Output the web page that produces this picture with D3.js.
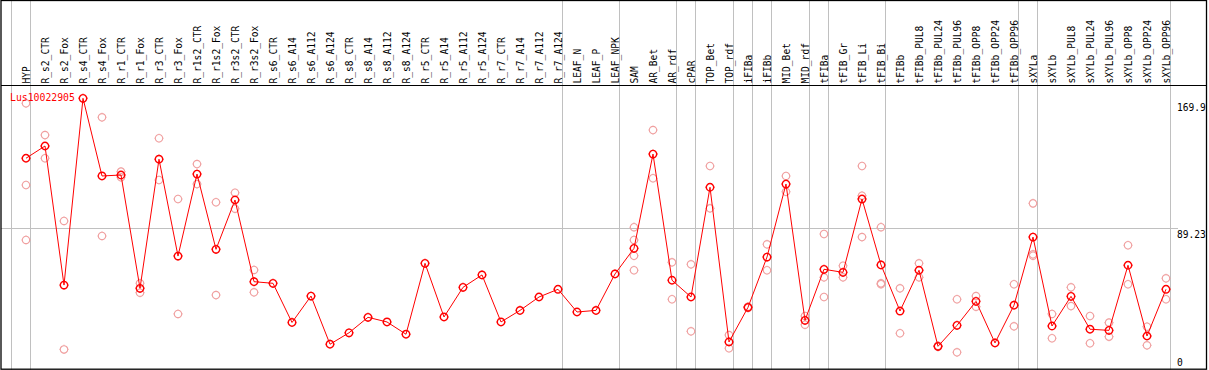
<!DOCTYPE html>
<html>
<head>
<meta charset="utf-8">
<script src="https://cdn.jsdelivr.net/npm/d3@7"></script>
<style>
body { margin: 0; background: #fff; }
svg { display: block; }
</style>
</head>
<body>
<svg id="chart" width="1209" height="370"></svg>
<script>
// sample names, in column order
var samples = ["HYP", "R_s2_CTR", "R_s2_Fox", "R_s4_CTR", "R_s4_Fox", "R_r1_CTR", "R_r1_Fox",
  "R_r3_CTR", "R_r3_Fox", "R_r1s2_CTR", "R_r1s2_Fox", "R_r3s2_CTR", "R_r3s2_Fox", "R_s6_CTR",
  "R_s6_A14", "R_s6_A112", "R_s6_A124", "R_s8_CTR", "R_s8_A14", "R_s8_A112", "R_s8_A124",
  "R_r5_CTR", "R_r5_A14", "R_r5_A112", "R_r5_A124", "R_r7_CTR", "R_r7_A14", "R_r7_A112",
  "R_r7_A124", "LEAF_N", "LEAF_P", "LEAF_NPK", "SAM", "AR_Bet", "AR_rdf", "cPAR", "TOP_Bet",
  "TOP_rdf", "iFIBa", "iFIBb", "MID_Bet", "MID_rdf", "tFIBa", "tFIB_Gr", "tFIB_Li", "tFIB_Bi",
  "tFIBb", "tFIBb_PUL8", "tFIBb_PUL24", "tFIBb_PUL96", "tFIBb_OPP8", "tFIBb_OPP24",
  "tFIBb_OPP96", "sXYLa", "sXYLb", "sXYLb_PUL8", "sXYLb_PUL24", "sXYLb_PUL96", "sXYLb_OPP8",
  "sXYLb_OPP24", "sXYLb_OPP96"];

// mean expression per sample
var means = [132.7, 140.3, 54.0, 169.9, 121.7, 122.3, 52.0, 132.1, 72.0, 122.9, 76.2, 106.8,
  56.1, 55.1, 30.8, 47.2, 17.3, 24.4, 34.0, 31.1, 23.5, 67.5, 34.2, 52.6, 60.3, 31.1, 38.3,
  46.6, 51.4, 37.3, 38.3, 60.9, 76.8, 135.3, 57.0, 46.6, 114.7, 18.7, 40.2, 71.4, 116.7, 32.1,
  63.8, 61.9, 107.4, 66.5, 37.9, 63.2, 16.0, 29.0, 43.9, 18.1, 41.5, 83.8, 28.6, 47.0, 26.6,
  25.9, 66.3, 22.4, 51.4];

// single replicates per sample (empty = one value only)
var reps = [[166.8, 116.1, 82.0], [147.1, 132.7], [93.8, 14.1], [], [158.1, 84.5],
  [124.4, 120.9], [55.1, 49.3], [145.1, 119.2], [107.4, 36.1], [129.1, 116.7], [105.4, 47.8],
  [111.3, 101.4], [63.4, 49.5], [], [], [], [], [], [], [], [], [], [], [], [], [], [], [], [],
  [], [], [], [89.9, 82.0, 72.2, 63.2], [150.2, 120.3], [68.1, 45.2], [66.9, 25.3],
  [127.9, 101.6], [23.0, 14.8], [40.6, 39.8], [79.3, 63.2], [121.7, 111.9], [34.8, 29.4],
  [85.7, 58.8, 46.6], [66.0, 58.8], [127.9, 109.5, 83.8], [89.9, 55.1, 54.5], [52.0, 24.1],
  [67.5, 58.8], [16.3, 15.7], [45.2, 12.3], [47.2, 40.6], [], [54.5, 28.4],
  [104.7, 73.1, 72.2], [36.1, 21.0], [52.6, 41.0], [34.8, 17.9], [30.7, 22.0], [78.7, 54.5],
  [28.2, 16.6], [58.2, 45.2]];

// last sample of each group (a grey separator follows it)
var groupEnds = ["HYP", "R_r7_A124", "LEAF_NPK", "AR_rdf", "cPAR", "TOP_rdf", "iFIBa", "iFIBb",
  "MID_rdf", "tFIBa", "tFIB_Bi", "tFIBb_OPP96", "sXYLa", "sXYLb_OPP96"];

var yTicks = [169.9, 89.23, 0];
var gridTicks = [89.23];
var seriesName = "Lus10022905";

var W = 1209, H = 370, headerH = 85;
var mono = "'DejaVu Sans Mono', monospace";

var svg = d3.select("#chart");

var x = d3.scaleBand()
  .domain(samples)
  .range([11, 11 + 19 * samples.length]);

var y = d3.scaleLinear()
  .domain([0, 169.9])
  .range([372.1, 98.3]);

function cx(name) { return x(name) + 15; }

// grey group separators, full height
svg.append("g")
  .selectAll("line")
  .data([null].concat(groupEnds))
  .join("line")
  .attr("x1", function(d) { return d === null ? 11.5 : x(d) + x.bandwidth() + 0.5; })
  .attr("x2", function(d) { return d === null ? 11.5 : x(d) + x.bandwidth() + 0.5; })
  .attr("y1", 0)
  .attr("y2", H)
  .attr("stroke", "#c0c0c0")
  .attr("stroke-width", 1);

// horizontal grid
svg.append("g")
  .selectAll("line")
  .data(gridTicks)
  .join("line")
  .attr("x1", 1)
  .attr("x2", 1178)
  .attr("y1", function(d) { return Math.round(y(d)) + 0.5; })
  .attr("y2", function(d) { return Math.round(y(d)) + 0.5; })
  .attr("stroke", "#c0c0c0")
  .attr("stroke-width", 1);

// right axis labels
svg.append("g")
  .selectAll("text")
  .data(yTicks)
  .join("text")
  .attr("x", 1177)
  .attr("y", function(d) { return Math.max(111.3, Math.min(366, y(d) + 9.3)); })
  .attr("font-family", mono)
  .attr("font-size", "9.6px")
  .attr("fill", "#000")
  .text(function(d) { return d; });

// rotated sample labels in header
svg.append("g")
  .selectAll("text")
  .data(samples)
  .join("text")
  .attr("transform", function(d) { return "translate(" + (cx(d) + 4) + "," + 83.5 + ") rotate(-90)"; })
  .attr("font-family", mono)
  .attr("font-size", "9.6px")
  .attr("fill", "#000")
  .text(function(d) { return d; });

// outer frame and header divider
svg.append("rect")
  .attr("x", 1)
  .attr("y", 0.5)
  .attr("width", 1205.5)
  .attr("height", 368.7)
  .attr("fill", "none")
  .attr("stroke", "#000")
  .attr("stroke-width", 1.3);

svg.append("line")
  .attr("x1", 1).attr("x2", 1206.5)
  .attr("y1", headerH + 0.5).attr("y2", headerH + 0.5)
  .attr("stroke", "#000")
  .attr("stroke-width", 1.2);

// circle with four small ticks
function marker(r) {
  var p = d3.path();
  p.moveTo(r, 0);
  p.arc(0, 0, r, 0, 2 * Math.PI);
  var t = r + 0.9;
  p.moveTo(0, -r); p.lineTo(0, -t);
  p.moveTo(0, r); p.lineTo(0, t);
  p.moveTo(-r, 0); p.lineTo(-t, 0);
  p.moveTo(r, 0); p.lineTo(t, 0);
  return p.toString();
}

// replicate points
var repPts = [];
samples.forEach(function(s, i) {
  reps[i].forEach(function(v) { repPts.push({ s: s, v: v }); });
});

svg.append("g")
  .selectAll("path")
  .data(repPts)
  .join("path")
  .attr("d", marker(3.7))
  .attr("transform", function(d) { return "translate(" + cx(d.s) + "," + y(d.v) + ")"; })
  .attr("fill", "none")
  .attr("stroke", "#f0a0a0")
  .attr("stroke-width", 1.1);

// mean line
var line = d3.line()
  .x(function(d, i) { return cx(samples[i]); })
  .y(function(d) { return y(d); });

svg.append("path")
  .datum(means)
  .attr("d", line)
  .attr("fill", "none")
  .attr("stroke", "#ff0000")
  .attr("stroke-width", 1);

svg.append("g")
  .selectAll("path")
  .data(means)
  .join("path")
  .attr("d", marker(3.7))
  .attr("transform", function(d, i) { return "translate(" + cx(samples[i]) + "," + y(d) + ")"; })
  .attr("fill", "none")
  .attr("stroke", "#ff0000")
  .attr("stroke-width", 1.4);

// series title
svg.append("text")
  .attr("x", 10)
  .attr("y", 101)
  .attr("font-family", mono)
  .attr("font-size", "9.8px")
  .attr("fill", "#ff0000")
  .text(seriesName);
</script>
</body>
</html>
